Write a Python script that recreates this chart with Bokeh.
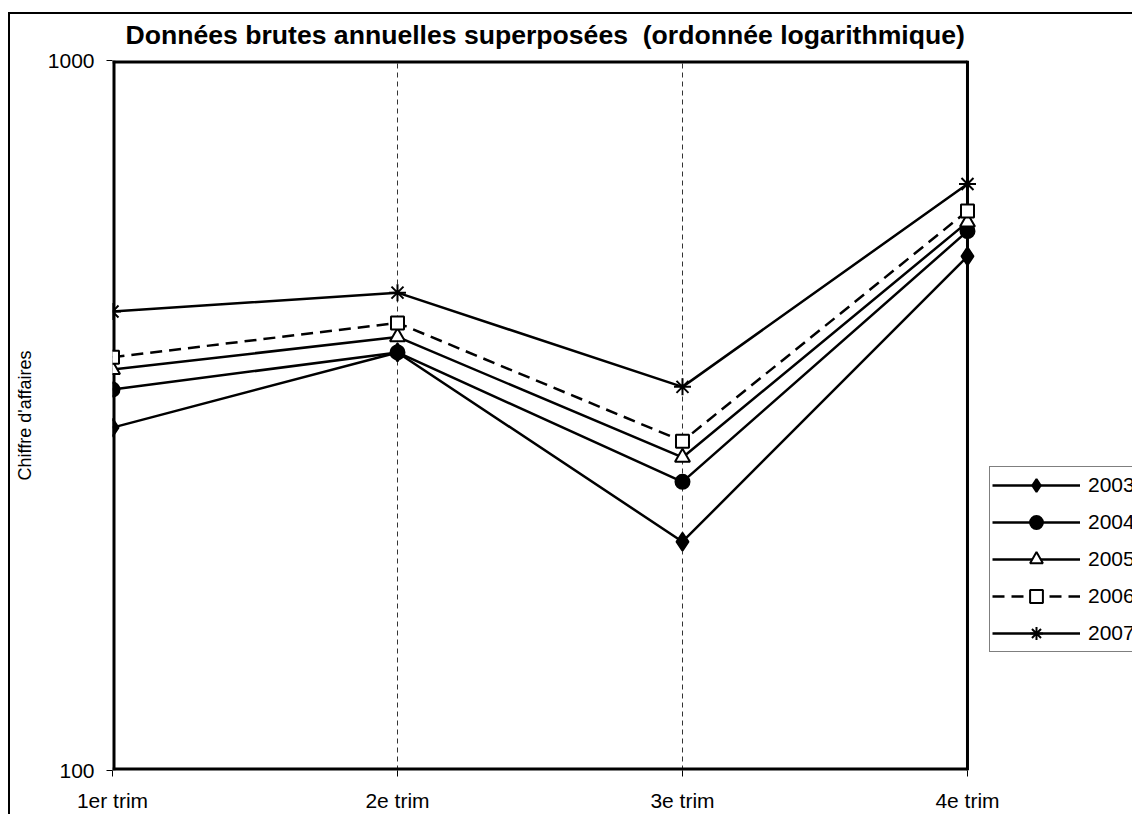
from bokeh.plotting import figure
from bokeh.models import Range1d, FixedTicker, Legend, LegendItem
from bokeh.embed import file_html
from bokeh.resources import INLINE

quarters = ["1er trim", "2e trim", "3e trim", "4e trim"]
years = ["2003", "2004", "2005", "2006", "2007"]
v2003 = [304, 388, 210, 530]
v2004 = [344, 388, 255, 575]
v2005 = [367, 408, 276, 592]
v2006 = [382, 427, 291, 614]
v2007 = [443, 471, 347, 670]
series = [v2003, v2004, v2005, v2006, v2007]
y_ticks = [100, 1000]

FONT = "Liberation Sans"
xs = list(range(len(quarters)))

# plot box spans quarters 0..3 ; extra room on the right holds the legend
X_END = 3.579
p = figure(width=1132, height=814, output_backend="svg", toolbar_location=None,
           y_axis_type="log", x_range=Range1d(0, X_END),
           y_range=Range1d(y_ticks[0], y_ticks[-1]),
           min_border_left=112, min_border_top=60, min_border_right=0,
           min_border_bottom=42)
p.background_fill_color = "white"
p.border_fill_color = None
p.outline_line_color = None

p.title.text = "Données brutes annuelles superposées \u00a0(ordonnée logarithmique)"
p.title.text_font = FONT
p.title.text_font_size = "26.6px"
p.title.text_font_style = "bold"
p.title.text_color = "black"
p.title.align = "left"
p.title.offset = 13
p.title.standoff = 22

p.xaxis.ticker = FixedTicker(ticks=xs)
p.xaxis.major_label_overrides = {i: q for i, q in enumerate(quarters)}
p.yaxis.ticker = FixedTicker(ticks=y_ticks)
p.yaxis.major_label_overrides = {t: str(t) for t in y_ticks}
for ax in (p.xaxis, p.yaxis):
    ax.axis_line_color = None
    ax.major_tick_line_color = "black"
    ax.major_tick_line_width = 1
    ax.major_tick_in = 0
    ax.major_tick_out = 6
    ax.minor_tick_line_color = None
    ax.major_label_text_font = FONT
    ax.major_label_text_font_size = "21px"
    ax.major_label_text_color = "black"
p.xaxis.major_label_standoff = 12
p.yaxis.major_label_standoff = 12
p.yaxis.axis_label = "Chiffre d'affaires"
p.yaxis.axis_label_text_font = FONT
p.yaxis.axis_label_text_font_size = "18px"
p.yaxis.axis_label_text_font_style = "normal"
p.yaxis.axis_label_text_color = "black"
p.yaxis.axis_label_standoff = 10

p.ygrid.grid_line_color = None
p.xgrid.grid_line_color = "#333333"
p.xgrid.grid_line_width = 1
p.xgrid.grid_line_dash = "5 4"

# plot-area box (left/bottom/top clipped at the frame edge, so doubled width)
box_kw = dict(line_color="black")
p.line([xs[0], xs[0]], [y_ticks[0], y_ticks[-1]], line_width=6, **box_kw)
p.line([xs[0], xs[-1]], [y_ticks[0], y_ticks[0]], line_width=6, **box_kw)
p.line([xs[0], xs[-1]], [y_ticks[-1], y_ticks[-1]], line_width=6, **box_kw)
p.line([xs[-1], xs[-1]], [y_ticks[0], y_ticks[-1]], line_width=3, **box_kw)

styles = [
    dict(marker="diamond", size=18, fill="black", dash="solid"),
    dict(marker="circle", size=14, fill="black", dash="solid"),
    dict(marker="triangle", size=15, fill="white", dash="solid"),
    dict(marker="square", size=13, fill="white", dash="12 7"),
    dict(marker="asterisk", size=17, fill="black", dash="solid"),
]

items = []
for yr, vals, st in zip(years, series, styles):
    ln = p.line(xs, vals, line_color="black", line_width=2.5, line_dash=st["dash"])
    mk = p.scatter(xs, vals, marker=st["marker"], size=st["size"],
                   fill_color=st["fill"], line_color="black", line_width=2)
    items.append(LegendItem(label=yr, renderers=[ln, mk]))

legend = Legend(items=items, location=(877, 118))
legend.glyph_width = 88
legend.glyph_height = 32
legend.label_height = 32
legend.spacing = 5
legend.padding = 2
legend.margin = 0
legend.label_standoff = 8
legend.label_text_font = FONT
legend.label_text_font_size = "21px"
legend.label_text_color = "black"
legend.border_line_color = "black"
legend.border_line_width = 1
legend.background_fill_color = "white"
legend.background_fill_alpha = 1
p.add_layout(legend, "center")

p.styles = {"box-shadow": "inset 8px 12px 0 0 white, inset 10px 14px 0 0 black"}

open("out.html", "w").write(file_html(p, INLINE))
